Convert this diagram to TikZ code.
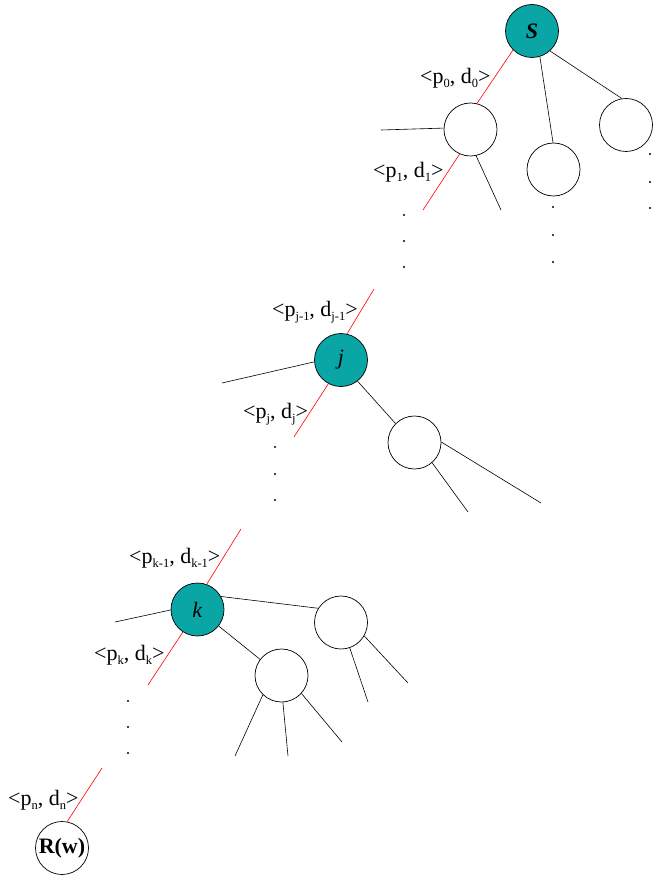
\documentclass[tikz,border=0pt]{standalone}
\usepackage{fontspec}
\setmainfont{Liberation Serif}
\definecolor{teal1}{RGB}{10,165,165}
\tikzset{
  nd/.style={circle,draw=black,line width=0.7pt,minimum size=53pt,inner sep=0pt,font=\fontsize{22}{26}\selectfont},
  hl/.style={nd,fill=teal1},
  wt/.style={nd,fill=white},
  ln/.style={black,line width=0.6pt},
  rd/.style={red,line width=0.6pt},
  lab/.style={anchor=base west,inner sep=0pt,font=\fontsize{22}{26}\selectfont},
  dt/.style={fill=black}
}
\newcommand{\sbs}[1]{\raisebox{-4pt}{\fontsize{12.5}{13}\selectfont #1}}
\begin{document}
\begin{tikzpicture}[x=1pt,y=-1pt]
\useasboundingbox (0,0) rectangle (653,877);
% nodes
\node[hl] (S) at (532,31) {\textbf{\textit{S}}};
\node[wt] (A) at (470.5,129.5) {};
\node[wt] (B) at (553.5,169.5) {};
\node[wt] (C) at (626,125) {};
\node[hl] (j) at (341,360) {\textit{j}};
\node[wt] (D) at (414.5,442.5) {};
\node[hl] (k) at (197.5,609.5) {\textit{k}};
\node[wt] (E) at (341,622.5) {};
\node[wt] (F) at (281.5,675.5) {};
\node[wt] (R) at (62,848) {\textbf{R(w)}};
% free ends
\coordinate (aL) at (381,130);
\coordinate (aR) at (423,210);
\coordinate (aB) at (501,210);
\coordinate (jT) at (374,289);
\coordinate (jL) at (222,383);
\coordinate (jR) at (294,437);
\coordinate (d1) at (541,503);
\coordinate (d2) at (468,512);
\coordinate (kT) at (241,529);
\coordinate (kL) at (115,622);
\coordinate (kR) at (148,685);
\coordinate (e1) at (368,702);
\coordinate (e2) at (408,683);
\coordinate (f1) at (235,756);
\coordinate (f2) at (288,756);
\coordinate (f3) at (342,742);
\coordinate (rT) at (102,768);
% connectors
\draw[rd] (S.225) -- (A.76);
\draw[ln] (S.287) -- (B.91);
\draw[ln] (S.312) -- (C.99);
\draw[ln] (aL) -- (A.177);
\draw[rd] (A.246) -- (aR);
\draw[ln] (A.282) -- (aB);
\draw[rd] (jT) -- (j.77);
\draw[ln] (jL) -- (j.184);
\draw[rd] (j.242) -- (jR);
\draw[ln] (j.308) -- (D.135);
\draw[ln] (D.1) -- (d1);
\draw[ln] (D.311) -- (d2);
\draw[rd] (kT) -- (k.70);
\draw[ln] (kL) -- (k.181);
\draw[ln] (k.29) -- (E.148);
\draw[ln] (E.289) -- (e1);
\draw[ln] (E.330) -- (e2);
\draw[ln] (k.322) -- (F.143);
\draw[ln] (F.226) -- (f1);
\draw[ln] (F.273) -- (f2);
\draw[ln] (F.318) -- (f3);
\draw[rd] (k.237) -- (kR);
\draw[rd] (rT) -- (R.79);
% dots
\foreach \x/\y in {404/215,404/241,404/267,553/207,553/235,553/262,650/154,650/182,650/208,275/447,275/474,275/500,128/701,128/727,128/753}
  \fill[dt] (\x,\y) circle (1.1pt);
% labels
\node[lab] (l0) at (420,84) {<p\sbs{0}, d\sbs{0}>};
\node[lab] (l1) at (373,178) {<p\sbs{1}, d\sbs{1}>};
\node[lab] (lj1) at (272,316) {<p\sbs{j-1}, d\sbs{j-1}>};
\node[lab] (lj) at (243,418) {<p\sbs{j}, d\sbs{j}>};
\node[lab] (lk1) at (129,563) {<p\sbs{k-1}, d\sbs{k-1}>};
\node[lab] (lk) at (94,660) {<p\sbs{k}, d\sbs{k}>};
\node[lab] (ln) at (8,805) {<p\sbs{n}, d\sbs{n}>};
\end{tikzpicture}
\end{document}
